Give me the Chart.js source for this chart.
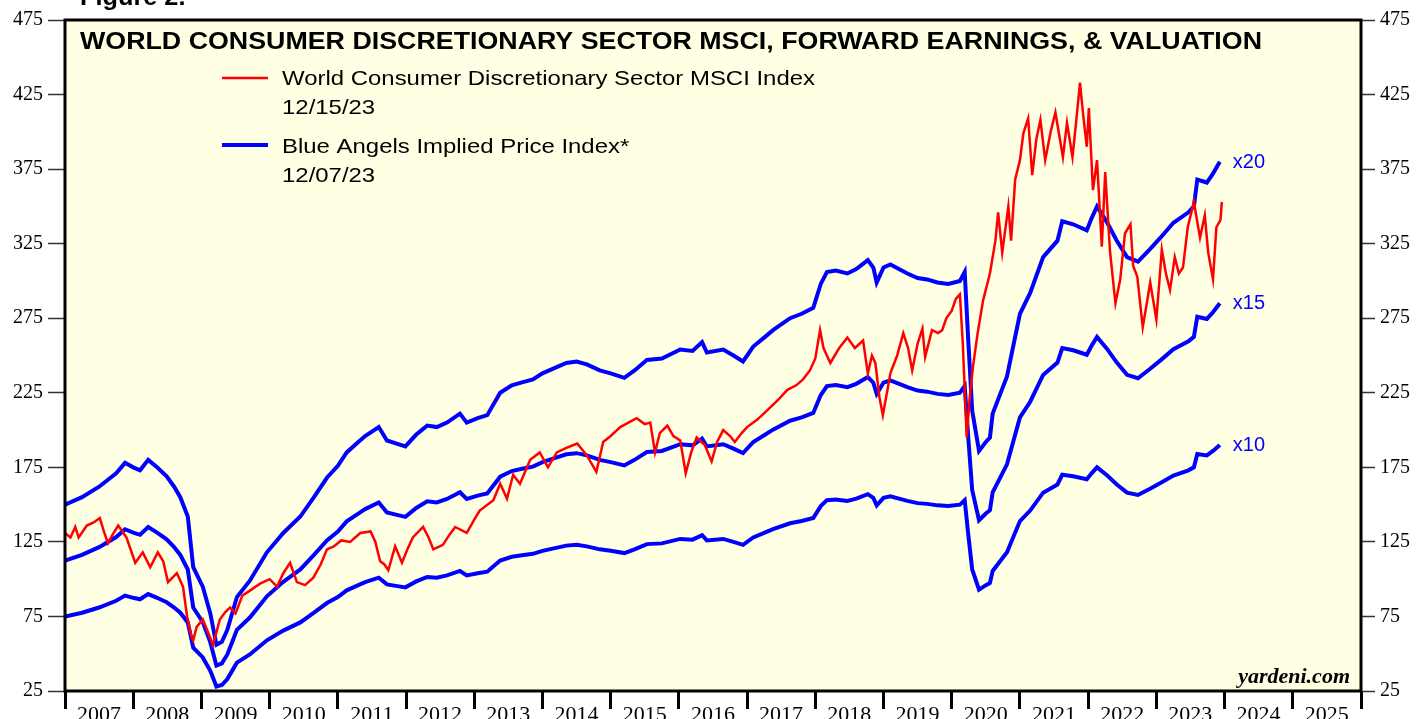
<!DOCTYPE html>
<html>
<head>
<meta charset="utf-8">
<script src="https://cdn.jsdelivr.net/npm/chart.js@4.4.1/dist/chart.umd.min.js"></script>
<style>
html, body { margin: 0; padding: 0; background: #fff; overflow: hidden; }
</style>
</head>
<body>
<canvas id="chart" width="1420" height="719"></canvas>
<script>
// MSCI World Consumer Discretionary index (weekly-ish readings, decimal years)
var indexDates = [
  2007.0, 2007.08, 2007.15, 2007.2, 2007.32, 2007.42, 2007.51, 2007.57, 2007.63, 2007.7,
  2007.78, 2007.9, 2008.03, 2008.14, 2008.25, 2008.36, 2008.44, 2008.51, 2008.64, 2008.73,
  2008.79, 2008.85, 2008.88, 2008.93, 2009.02, 2009.1, 2009.17, 2009.27, 2009.35, 2009.42,
  2009.5, 2009.6, 2009.7, 2009.86, 2010.0, 2010.11, 2010.2, 2010.3, 2010.4, 2010.52,
  2010.64, 2010.75, 2010.84, 2010.94, 2011.05, 2011.18, 2011.33, 2011.48, 2011.55, 2011.62,
  2011.68, 2011.74, 2011.84, 2011.94, 2012.02, 2012.1, 2012.25, 2012.33, 2012.4, 2012.54,
  2012.64, 2012.72, 2012.89, 2013.0, 2013.08, 2013.28, 2013.38, 2013.48, 2013.57, 2013.67,
  2013.82, 2013.96, 2014.08, 2014.21, 2014.35, 2014.51, 2014.65, 2014.79, 2014.89, 2015.0,
  2015.14, 2015.3, 2015.38, 2015.5, 2015.58, 2015.65, 2015.72, 2015.83, 2015.92, 2016.02,
  2016.1, 2016.18, 2016.26, 2016.38, 2016.48, 2016.56, 2016.65, 2016.75, 2016.82, 2016.92,
  2017.0, 2017.15, 2017.29, 2017.45, 2017.59, 2017.72, 2017.82, 2017.92, 2018.0, 2018.07,
  2018.12, 2018.22, 2018.35, 2018.47, 2018.58, 2018.7, 2018.77, 2018.83, 2018.88, 2018.94,
  2018.99, 2019.05, 2019.1, 2019.2, 2019.29, 2019.36, 2019.42, 2019.5, 2019.57, 2019.61,
  2019.71, 2019.8, 2019.86, 2019.92, 2020.0, 2020.06, 2020.12, 2020.16, 2020.22, 2020.26,
  2020.31, 2020.38, 2020.46, 2020.56, 2020.64, 2020.68, 2020.74, 2020.83, 2020.87, 2020.93,
  2021.0, 2021.05, 2021.12, 2021.18, 2021.24, 2021.3, 2021.37, 2021.45, 2021.52, 2021.63,
  2021.69, 2021.77, 2021.82, 2021.88, 2021.93, 2021.98, 2022.01, 2022.07, 2022.13, 2022.2,
  2022.25, 2022.32, 2022.4, 2022.47, 2022.54, 2022.62, 2022.66, 2022.72, 2022.8, 2022.86,
  2022.91, 2023.0, 2023.08, 2023.14, 2023.2, 2023.27, 2023.33, 2023.39, 2023.46, 2023.55,
  2023.64, 2023.71, 2023.76, 2023.83, 2023.88, 2023.94, 2023.96
];
var indexValues = [
  131, 128, 135, 128, 136, 138, 141, 132, 124, 130,
  136, 128, 111, 118, 108, 118, 112, 98, 104, 95,
  75, 62, 59, 68, 73, 64, 56, 73, 78, 81,
  77, 89, 92, 97, 100, 95, 104, 111, 98, 96,
  101, 110, 120, 122, 126, 125, 131, 132, 125, 112,
  110, 106, 122, 111, 120, 128, 135, 128, 120, 123,
  130, 135, 131, 140, 146, 153, 164, 154, 170, 164,
  180, 185, 175, 185, 188, 191, 183, 172, 192, 196,
  202, 206, 208, 204, 205, 185, 198, 203, 196, 193,
  171, 185, 195, 190, 179, 192, 200, 196, 192, 198,
  202, 207, 213, 220, 227, 230, 234, 240, 248, 267,
  255, 245, 255, 262, 255, 260, 238, 250, 245, 222,
  210, 225, 238, 250, 265, 255, 240, 258, 268, 249,
  267, 265, 267, 275, 280, 288, 291, 260, 195, 220,
  242, 265, 287, 305, 327, 346, 319, 350, 327, 368,
  381, 399, 409, 371, 395, 408, 381, 400, 413, 383,
  406, 383, 405, 433, 410, 390, 416, 361, 381, 323,
  373, 320, 285, 301, 332, 338, 310, 303, 269, 285,
  299, 274, 321, 305, 294, 316, 305, 309, 336, 353,
  329, 344, 319, 301, 336, 341, 353
];

// Forward earnings implied by the blue lines (price index / multiple)
var earningsDates = [
  2007.0, 2007.25, 2007.5, 2007.75, 2007.88, 2008.0, 2008.1, 2008.22, 2008.35, 2008.49,
  2008.6, 2008.69, 2008.8, 2008.88, 2009.02, 2009.13, 2009.22, 2009.3, 2009.38, 2009.45,
  2009.52, 2009.71, 2009.96, 2010.2, 2010.45, 2010.65, 2010.84, 2011.0, 2011.13, 2011.3,
  2011.4, 2011.6, 2011.72, 2011.85, 2011.99, 2012.15, 2012.31, 2012.45, 2012.6, 2012.79,
  2012.89, 2013.05, 2013.19, 2013.38, 2013.55, 2013.7, 2013.86, 2014.0, 2014.2, 2014.35,
  2014.5, 2014.65, 2014.84, 2015.0, 2015.2, 2015.35, 2015.53, 2015.75, 2016.02, 2016.2,
  2016.34, 2016.41, 2016.65, 2016.8, 2016.94, 2017.09, 2017.25, 2017.38, 2017.63, 2017.8,
  2017.97, 2018.08, 2018.17, 2018.3, 2018.47, 2018.6, 2018.77, 2018.85, 2018.9, 2019.0,
  2019.1, 2019.35, 2019.5, 2019.64, 2019.79, 2019.95, 2020.12, 2020.19, 2020.24, 2020.3,
  2020.4, 2020.5, 2020.56, 2020.6, 2020.81, 2021.0, 2021.15, 2021.34, 2021.55, 2021.62,
  2021.78, 2021.98, 2022.05, 2022.13, 2022.28, 2022.42, 2022.57, 2022.73, 2022.9, 2023.06,
  2023.25, 2023.47, 2023.55, 2023.6, 2023.74, 2023.83, 2023.93
];
var fwdEarnings = [
  7.5, 7.75, 8.1, 8.55, 8.9, 8.75, 8.65, 9.0, 8.75, 8.45,
  8.1, 7.75, 7.1, 5.4, 4.75, 3.85, 2.8, 2.9, 3.3, 3.85,
  4.4, 4.95, 5.9, 6.55, 7.1, 7.75, 8.4, 8.8, 9.25, 9.6,
  9.8, 10.1, 9.65, 9.55, 9.45, 9.85, 10.15, 10.1, 10.25, 10.55,
  10.25, 10.4, 10.5, 11.25, 11.5, 11.6, 11.7, 11.9, 12.1, 12.25,
  12.3, 12.2, 12.0, 11.9, 11.75, 12.0, 12.35, 12.4, 12.7, 12.65,
  12.95, 12.6, 12.7, 12.5, 12.3, 12.8, 13.1, 13.35, 13.75, 13.9,
  14.1, 14.9, 15.3, 15.35, 15.25, 15.4, 15.7, 15.45, 14.95, 15.45,
  15.55, 15.25, 15.1, 15.05, 14.95, 14.9, 15.0, 15.3, 13.1, 10.65,
  9.3, 9.6, 9.75, 10.55, 11.8, 13.9, 14.6, 15.8, 16.35, 17.0,
  16.9, 16.7, 17.1, 17.5, 16.95, 16.35, 15.8, 15.65, 16.05, 16.45,
  16.95, 17.3, 17.5, 18.4, 18.3, 18.6, 19.0
];
var multiples = [20, 15, 10];

var yMin = 25, yMax = 475, yStep = 50;
var firstYear = 2007, lastYear = 2026;

function pairs(xs, ys, k) {
  var out = [];
  var n = Math.min(xs.length, ys.length);
  for (var i = 0; i < n; i++) out.push({ x: xs[i], y: ys[i] * (k || 1) });
  return out;
}

var datasets = [{
  label: 'World Consumer Discretionary Sector MSCI Index',
  data: pairs(indexDates, indexValues, 1),
  borderColor: '#ff0000',
  borderWidth: 2.5,
  pointRadius: 0,
  order: 0
}];
multiples.forEach(function (m) {
  datasets.push({
    label: 'x' + m,
    data: pairs(earningsDates, fwdEarnings, m),
    borderColor: '#0000ff',
    borderWidth: 4,
    pointRadius: 0,
    order: 1
  });
});

// draws text squeezed/stretched horizontally by sx
function wideText(c, txt, x, y, sx) {
  c.save();
  c.translate(x, y);
  c.scale(sx, 1);
  c.fillText(txt, 0, 0);
  c.restore();
}

var decor = {
  id: 'decor',
  beforeDraw: function (chart) {
    var c = chart.ctx, a = chart.chartArea;
    c.save();
    c.fillStyle = '#ffffff';
    c.fillRect(0, 0, chart.width, chart.height);
    c.fillStyle = '#ffffe3';
    c.fillRect(a.left, a.top, a.right - a.left, a.bottom - a.top);
    c.restore();
  },
  afterDraw: function (chart) {
    var c = chart.ctx, a = chart.chartArea;
    c.save();
    c.strokeStyle = '#000';
    c.lineWidth = 3;
    c.strokeRect(a.left, a.top, a.right - a.left, a.bottom - a.top);

    c.fillStyle = '#000';
    c.textAlign = 'left';
    c.textBaseline = 'alphabetic';
    c.font = 'bold 23px "Liberation Sans", Arial, sans-serif';
    wideText(c, 'Figure 2.', 80, 5, 1.1);
    var title = 'WORLD CONSUMER DISCRETIONARY SECTOR MSCI, FORWARD EARNINGS, & VALUATION';
    wideText(c, title, 80, 49, 1182 / c.measureText(title).width);

    // legend
    c.lineWidth = 2.5;
    c.strokeStyle = '#ff0000';
    c.beginPath(); c.moveTo(222, 78); c.lineTo(268, 78); c.stroke();
    c.lineWidth = 4;
    c.strokeStyle = '#0000ff';
    c.beginPath(); c.moveTo(222, 145); c.lineTo(268, 145); c.stroke();
    c.font = '21px "Liberation Sans", Arial, sans-serif';
    var l1 = 'World Consumer Discretionary Sector MSCI Index';
    var sx = 533 / c.measureText(l1).width;
    wideText(c, l1, 282, 85, sx);
    wideText(c, '12/15/23', 282, 114, sx);
    wideText(c, 'Blue Angels Implied Price Index*', 282, 153, sx);
    wideText(c, '12/07/23', 282, 182, sx);

    // multiple labels at the end of each blue line
    c.fillStyle = '#0000ff';
    c.font = '20px "Liberation Sans", Arial, sans-serif';
    var xs = chart.scales.x, ys = chart.scales.y;
    multiples.forEach(function (m) {
      var last = fwdEarnings.length - 1;
      var px = xs.getPixelForValue(earningsDates[last]);
      var py = ys.getPixelForValue(fwdEarnings[last] * m);
      c.fillText('x' + m, px + 13, py + 6);
    });

    c.fillStyle = '#000';
    c.textAlign = 'right';
    c.font = 'italic bold 22px "Liberation Serif", "Times New Roman", serif';
    c.fillText('yardeni.com', 1350, 683);
    c.restore();
  }
};

var yTickFont = { family: '"Liberation Serif", "Times New Roman", serif', size: 20 };

new Chart(document.getElementById('chart').getContext('2d'), {
  type: 'line',
  data: { datasets: datasets },
  options: {
    responsive: false,
    animation: false,
    devicePixelRatio: 1,
    layout: { padding: { top: 20, left: 0, right: 0, bottom: 0 } },
    plugins: { legend: { display: false }, tooltip: { enabled: false } },
    elements: { line: { tension: 0 } },
    scales: {
      x: {
        type: 'linear',
        min: firstYear,
        max: lastYear,
        border: { display: false },
        grid: { drawOnChartArea: false, drawTicks: true, tickLength: 18, tickWidth: 3, tickColor: '#000' },
        ticks: {
          stepSize: 1,
          autoSkip: false,
          maxRotation: 0,
          labelOffset: 34,
          padding: -7,
          color: '#000',
          font: { family: '"Liberation Serif", "Times New Roman", serif', size: 22 },
          callback: function (v) { return v >= lastYear ? '' : String(v); }
        },
        afterFit: function (s) { s.height = 28; }
      },
      y: {
        position: 'left',
        min: yMin,
        max: yMax,
        border: { display: false },
        grid: { drawOnChartArea: false, tickLength: 17, tickWidth: 1.5, tickColor: '#333' },
        ticks: { stepSize: yStep, padding: 5, color: '#000', font: yTickFont },
        afterFit: function (s) { s.width = 65; }
      },
      y2: {
        position: 'right',
        min: yMin,
        max: yMax,
        border: { display: false },
        grid: { drawOnChartArea: false, tickLength: 14, tickWidth: 1.5, tickColor: '#333' },
        ticks: { stepSize: yStep, padding: 5, color: '#000', font: yTickFont },
        afterFit: function (s) { s.width = 59; }
      }
    }
  },
  plugins: [decor]
});
</script>
</body>
</html>
